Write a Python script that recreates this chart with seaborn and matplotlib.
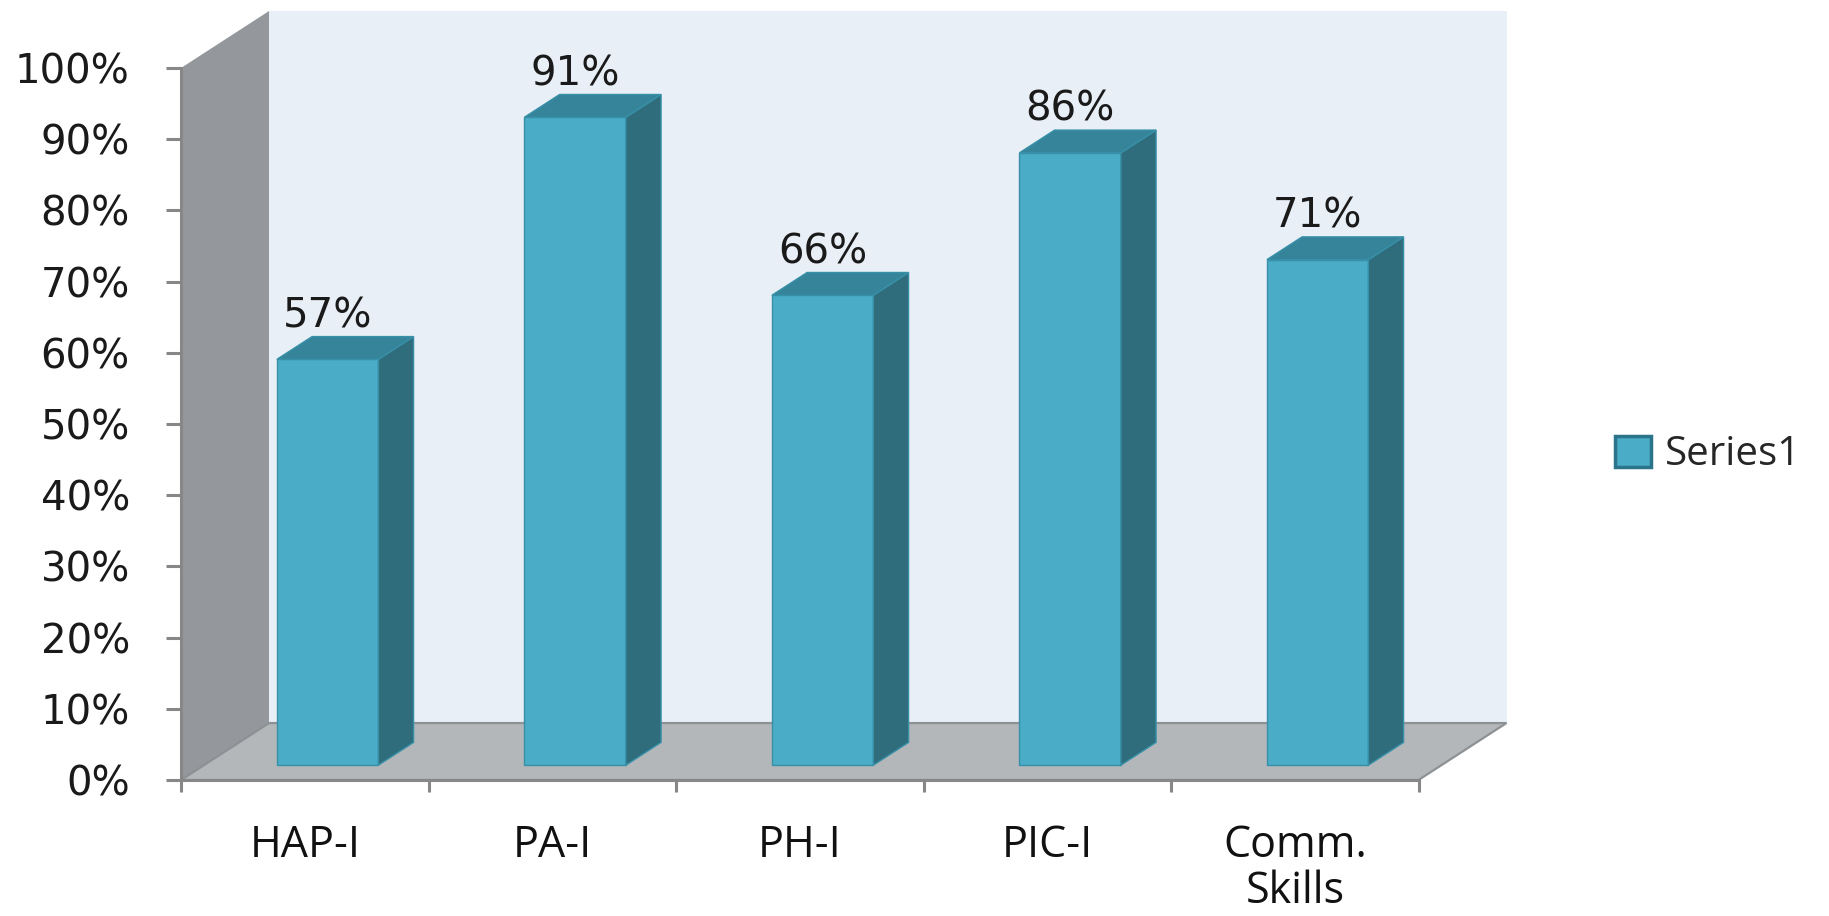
import matplotlib
matplotlib.use("Agg")
import matplotlib.pyplot as plt
import seaborn as sns
import numpy as np
import pandas as pd
from matplotlib.patches import Polygon, Patch

# ---- data ----
categories = ["HAP-I", "PA-I", "PH-I", "PIC-I", "Comm.\nSkills"]
values = [57, 91, 66, 86, 71]
ytick_values = list(range(0, 101, 10))
ytick_labels = [f"{v}%" for v in ytick_values]
series_name = "Series1"

# ---- style ----
FRONT = "#4AACC6"
SIDE = "#2F6D7C"
TOP = "#36849A"
EDGE = "#3790A8"
BACK_WALL = "#E8EFF6"
SIDE_WALL = "#94979C"
FLOOR = "#B3B7BA"
AXIS_GRAY = "#878787"

sns.set_style("white")
W, H = 1829, 916
fig = plt.figure(figsize=(W / 100, H / 100), dpi=100)

# depth offsets (data units)
DX = 88 / 247.5
DY = 8.0
D0 = 0.26      # bar front depth fraction
BD = 0.40      # bar depth fraction
BAR_W = 0.41

xmin, xmax = -0.5, 4.5 + DX + 0.03
ymin, ymax = -1.0, 108.5
px_x = 247.5
px_y = 7.12
left_px = 181
zero_px = 780
ax_left = left_px / W
ax_w = (xmax - xmin) * px_x / W
ax_bottom = (H - (zero_px - ymin * px_y)) / H
ax_h = (ymax - ymin) * px_y / H
ax = fig.add_axes([ax_left, ax_bottom, ax_w, ax_h])

df = pd.DataFrame({"cat": categories, "val": values})
sns.barplot(data=df, x="cat", y="val", color=FRONT, saturation=1, width=BAR_W,
            edgecolor=EDGE, linewidth=1.0, ax=ax, zorder=3)
bars = list(ax.patches)

ax.set_xlim(xmin, xmax)
ax.set_ylim(ymin, ymax)

# walls and floor
ax.add_patch(Polygon([(-0.5 + DX, DY), (4.5 + DX, DY), (4.5 + DX, 100 + DY), (-0.5 + DX, 100 + DY)],
                     closed=True, facecolor=BACK_WALL, edgecolor="none", zorder=0))
ax.add_patch(Polygon([(-0.5, 0), (-0.5 + DX, DY), (-0.5 + DX, 100 + DY), (-0.5, 100)],
                     closed=True, facecolor=SIDE_WALL, edgecolor="none", zorder=0.5))
ax.add_patch(Polygon([(-0.5, 0), (4.5, 0), (4.5 + DX, DY), (-0.5 + DX, DY)],
                     closed=True, facecolor=FLOOR, edgecolor="#8E9194", linewidth=1.6, zorder=0.6))

# 3D bars
bdx, bdy = BD * DX, BD * DY
for p, v in zip(bars, values):
    w = p.get_width()
    x0 = p.get_x() + D0 * DX
    y0 = D0 * DY
    p.set_x(x0)
    p.set_y(y0)
    top = y0 + p.get_height()
    x1 = x0 + w
    ax.add_patch(Polygon([(x1, y0), (x1 + bdx, y0 + bdy), (x1 + bdx, top + bdy), (x1, top)],
                         closed=True, facecolor=SIDE, edgecolor=EDGE, linewidth=1.0, zorder=3))
    ax.add_patch(Polygon([(x0, top), (x1, top), (x1 + bdx, top + bdy), (x0 + bdx, top + bdy)],
                         closed=True, facecolor=TOP, edgecolor=EDGE, linewidth=1.0, zorder=3))
    ax.text(x0 + w / 2, top + bdy + 1.3, f"{v}%", ha="center", va="baseline",
            fontsize=29, family="DejaVu Sans", color="#1a1a1a", zorder=5)

# axes styling
for s in ["top", "right"]:
    ax.spines[s].set_visible(False)
ax.spines["left"].set_bounds(0, 100)
ax.spines["bottom"].set_position(("data", 0))
ax.spines["bottom"].set_bounds(-0.5, 4.5)
for s in ["left", "bottom"]:
    ax.spines[s].set_color(AXIS_GRAY)
    ax.spines[s].set_linewidth(2.2)
    ax.spines[s].set_zorder(4)

ax.set_yticks(ytick_values)
ax.set_yticklabels(ytick_labels)
ax.tick_params(axis="y", left=True, length=10.8, width=2.2, color=AXIS_GRAY, pad=26,
               labelsize=29, labelcolor="#1a1a1a", direction="out")
for t in ax.get_yticklabels():
    t.set_family("DejaVu Sans")

ax.set_xticks(range(len(categories)))
ax.set_xticklabels(categories, linespacing=1.05)
ax.set_xticks(np.arange(-0.5, len(categories), 1), minor=True)
ax.tick_params(axis="x", which="major", bottom=True, length=0, pad=31, labelsize=31,
               labelcolor="#111111")
ax.tick_params(axis="x", which="minor", bottom=True, length=8.6, width=2.2,
               color=AXIS_GRAY, direction="out")
for t in ax.get_xticklabels():
    t.set_family("Open Sans")
ax.set_xlabel("")
ax.set_ylabel("")
ax.grid(False)
ax.set_facecolor("none")

fig.legend(handles=[Patch(facecolor=FRONT, edgecolor="#2C7489", linewidth=2.5)],
           labels=[series_name], loc="center left",
           bbox_to_anchor=(1615 / W, 1 - 455 / H), frameon=False, borderpad=0,
           borderaxespad=0, handlelength=0.9, handleheight=0.8, handletextpad=0.35,
           prop={"family": "Open Sans", "size": 29})

fig.savefig("out.png", dpi=100)
